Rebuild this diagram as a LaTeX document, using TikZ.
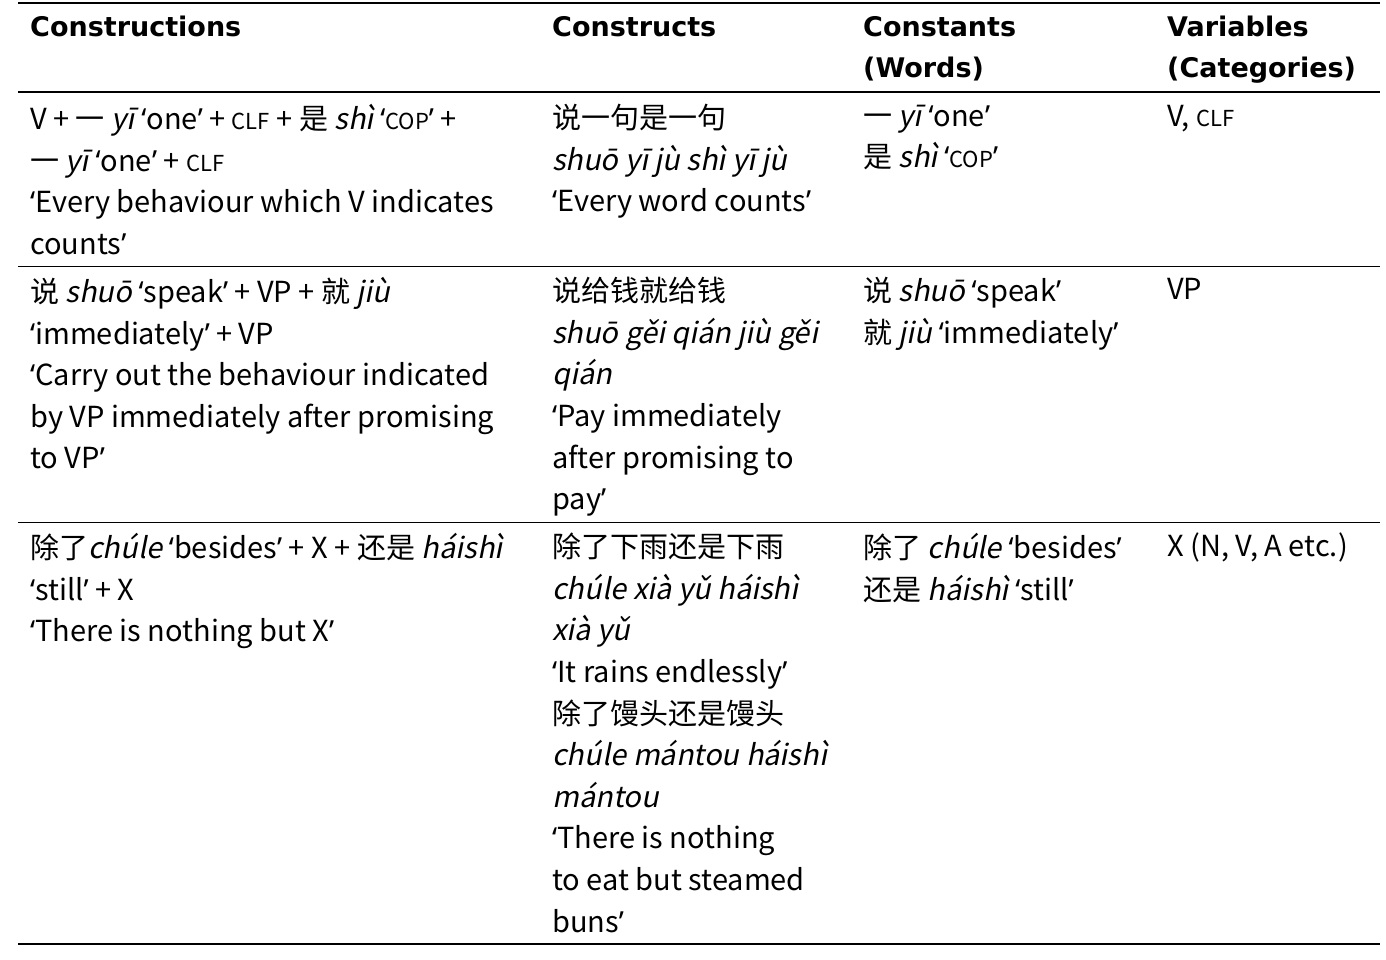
\documentclass[tikz,border=0pt]{standalone}
\usepackage{fontspec}
\setmainfont{Noto Sans CJK SC}[ItalicFont=Noto Sans CJK SC,ItalicFeatures={FakeSlant=0.2},BoldFont=Noto Sans CJK SC Bold]
\newfontfamily\qf{Noto Sans}
\newfontfamily\hf{DejaVu Sans}
\newcommand{\oq}{{\qf ‘}}
\newcommand{\cq}{{\qf ’}}
\newcommand{\sca}[1]{{\fontsize{22}{22}\selectfont #1}}
\newcommand{\fr}{\rule{0pt}{22pt}}
\begin{document}
\begin{tikzpicture}[x=1pt,y=-1pt,
  cellbox/.style={anchor=north west,inner sep=0pt,align=left,font=\fontsize{29}{41.6}\selectfont},
  headbox/.style={cellbox,font=\fontsize{27}{41.6}\selectfont\hf\bfseries},
  rulel/.style={line width=1.3pt}]
\useasboundingbox (0,0) rectangle (1386,959);
\coordinate (l0) at (18,3); \coordinate (r0) at (1380,3);
\coordinate (l1) at (18,92); \coordinate (r1) at (1380,92);
\coordinate (l2) at (18,266); \coordinate (r2) at (1380,266);
\coordinate (l3) at (18,522); \coordinate (r3) at (1380,522);
\coordinate (l4) at (18,944); \coordinate (r4) at (1380,944);
\draw[rulel] (l0)--(r0); \draw[rulel] (l1)--(r1); \draw[line width=0.8pt] (l2)--(r2);
\draw[line width=0.8pt] (l3)--(r3); \draw[rulel] (l4)--(r4);
% header
\node[headbox] (h1) at (30,14) {\fr Constructions};
\node[headbox] (h2) at (552,14) {\fr Constructs};
\node[headbox] (h3) at (863,14) {\fr Constants\\(Words)};
\node[headbox] (h4) at (1167,14) {\fr Variables\\(Categories)};
% row 1
\node[cellbox] (a1) at (30,104) {\fr V + 一 \textit{yī} \oq one\cq{} + \sca{CLF} + 是 \textit{shì} \oq\sca{COP}\cq{} +\\一 \textit{yī} \oq one\cq{} + \sca{CLF}\\\oq Every behaviour which V indicates\\counts\cq};
\node[cellbox] (b1) at (552,104) {\fr 说一句是一句\\\textit{shuō yī jù shì yī jù}\\\oq Every word counts\cq};
\node[cellbox] (c1) at (863,104) {\fr 一 \textit{yī} \oq one\cq\\是 \textit{shì} \oq\sca{COP}\cq};
\node[cellbox] (d1) at (1167,104) {\fr V, \sca{CLF}};
% row 2
\node[cellbox] (a2) at (30,277) {\fr 说 \textit{shuō} \oq speak\cq{} + VP + 就 \textit{jiù}\\\oq immediately\cq{} + VP\\\oq Carry out the behaviour indicated\\by VP immediately after promising\\to VP\cq};
\node[cellbox] (b2) at (552,277) {\fr 说给钱就给钱\\\textit{shuō gěi qián jiù gěi}\\\textit{qián}\\\oq Pay immediately\\after promising to\\pay\cq};
\node[cellbox] (c2) at (863,277) {\fr 说 \textit{shuō} \oq speak\cq\\就 \textit{jiù} \oq immediately\cq};
\node[cellbox] (d2) at (1167,277) {\fr VP};
% row 3
\node[cellbox] (a3) at (30,533) {\fr 除了\textit{chúle} \oq besides\cq{} + X + 还是 \textit{háishì}\\\oq still\cq{} + X\\\oq There is nothing but X\cq};
\node[cellbox] (b3) at (552,533) {\fr 除了下雨还是下雨\\\textit{chúle xià yǔ háishì}\\\textit{xià yǔ}\\\oq It rains endlessly\cq\\除了馒头还是馒头\\\textit{chúle mántou háishì}\\\textit{mántou}\\\oq There is nothing\\to eat but steamed\\buns\cq};
\node[cellbox] (c3) at (863,533) {\fr 除了 \textit{chúle} \oq besides\cq\\还是 \textit{háishì} \oq still\cq};
\node[cellbox] (d3) at (1167,533) {\fr X (N, V, A etc.)};
\end{tikzpicture}
\end{document}
